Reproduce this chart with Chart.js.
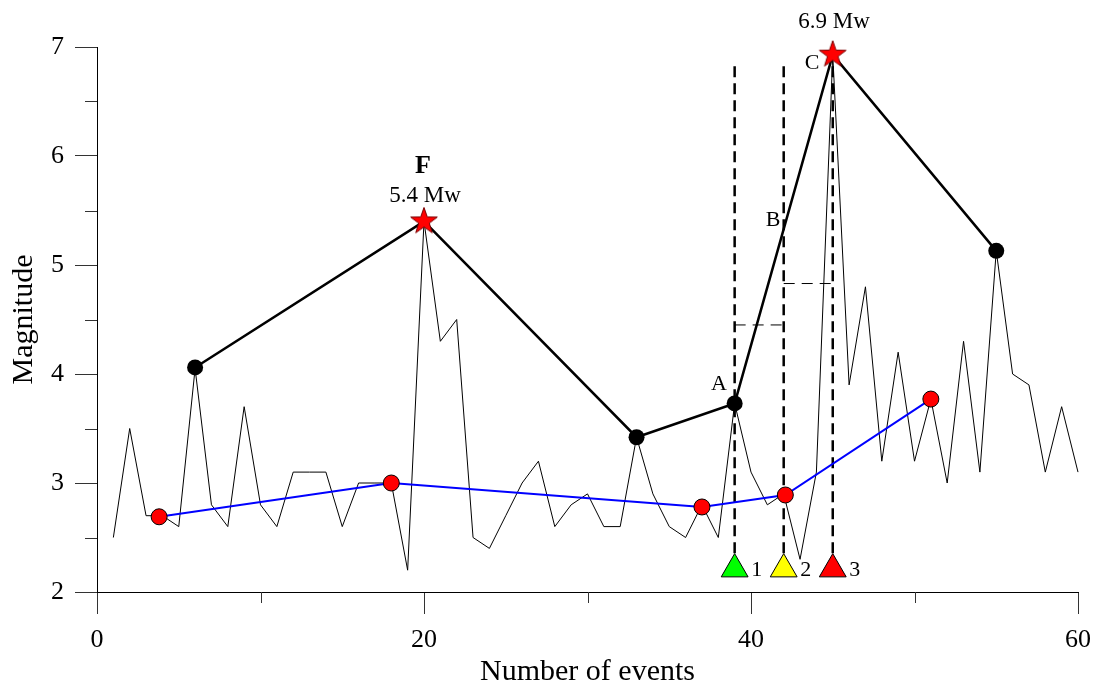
<!DOCTYPE html>
<html>
<head>
<meta charset="utf-8">
<script src="https://cdn.jsdelivr.net/npm/chart.js@4.4.1/dist/chart.umd.min.js"></script>
<style>
  html, body { margin: 0; padding: 0; background: #fff; }
  #wrap { width: 1102px; height: 686px; }
</style>
</head>
<body>
<div id="wrap"><canvas id="chart"></canvas></div>
<script>
// every event of the sequence
const eventNo = [1, 2, 3, 4, 5, 6, 7, 8, 9, 10, 11, 12, 13, 14, 15, 16, 17, 18, 19, 20,
  21, 22, 23, 24, 25, 26, 27, 28, 29, 30, 31, 32, 33, 34, 35, 36, 37, 38, 39, 40,
  41, 42, 43, 44, 45, 46, 47, 48, 49, 50, 51, 52, 53, 54, 55, 56, 57, 58, 59, 60]
const magnitude = [2.5, 3.5, 2.7, 2.7, 2.6, 4.05, 2.8, 2.6, 3.7, 2.8,
  2.6, 3.1, 3.1, 3.1, 2.6, 3.0, 3.0, 3.0, 2.2, 5.4,
  4.3, 4.5, 2.5, 2.4, 2.7, 3.0, 3.2, 2.6, 2.8, 2.9,
  2.6, 2.6, 3.42, 2.9, 2.6, 2.5, 2.8, 2.5, 3.73, 3.1,
  2.8, 2.9, 2.3, 3.1, 6.93, 3.9, 4.8, 3.2, 4.2, 3.2,
  3.77, 3.0, 4.3, 3.1, 5.13, 4.0, 3.9, 3.1, 3.7, 3.1]

// envelope of the largest events
const peakX = [6, 20, 33, 39, 45, 55]
const peakY = [4.06, 5.4, 3.42, 3.73, 6.93, 5.13]
const peakIsStar = [false, true, false, false, true, false]

// blue curve (red dots)
const meanX = [3.8, 18, 37, 42.1, 51]
const meanY = [2.69, 3.0, 2.78, 2.89, 3.77]

// stations 1-3 and their dashed markers
const stationX = [39, 42, 45]
const stationNames = ['1', '2', '3']
const stationY = 2.21
const dashTop = 6.86
const dashBottom = 2.2
const gapFrom = [39, 42]
const gapTo = [42, 45]
const gapY = [4.45, 4.83]

const xMajor = [0, 20, 40, 60]
const xMinor = [10, 30, 50]
const yMinor = [2.5, 3.5, 4.5, 5.5, 6.5]

const notes = [
  { text: 'F', x: 19.94, y: 5.91, bold: true, size: 26 },
  { text: '5.4 Mw', x: 20.06, y: 5.63, size: 23 },
  { text: '6.9 Mw', x: 45.08, y: 7.23, size: 23 },
  { text: 'A', x: 38.04, y: 3.91, size: 22 },
  { text: 'B', x: 41.35, y: 5.41, size: 22 },
  { text: 'C', x: 43.73, y: 6.85, size: 22 }
]

const FONT = "'Liberation Serif', 'Times New Roman', serif"
const stationColors = ['#00ff00', '#ffff00', '#ff0000']

function makeStar(r) {
  const c = document.createElement('canvas')
  const s = Math.ceil(r * 2 + 4)
  c.width = s
  c.height = s
  const g = c.getContext('2d')
  g.translate(s / 2, s / 2)
  g.beginPath()
  for (let i = 0; i < 10; i++) {
    const rad = i % 2 === 0 ? r : r * 0.4
    const a = -Math.PI / 2 + i * Math.PI / 5
    g.lineTo(rad * Math.cos(a), rad * Math.sin(a))
  }
  g.closePath()
  g.fillStyle = '#ff0000'
  g.fill()
  g.lineWidth = 1
  g.strokeStyle = '#7a0000'
  g.stroke()
  return c
}
const star = makeStar(14)

const pts = (xs, ys) => xs.map((x, i) => ({ x, y: ys[i] }))

const datasets = []

// stations (on top)
datasets.push({
  data: stationX.map(x => ({ x, y: stationY })),
  showLine: false,
  pointStyle: 'triangle',
  pointRadius: 15.5,
  pointBackgroundColor: stationColors,
  pointBorderColor: '#000',
  pointBorderWidth: 1,
  order: 0
})

datasets.push({
  data: pts(peakX, peakY),
  showLine: true,
  borderColor: '#000',
  borderWidth: 2.5,
  pointStyle: peakIsStar.map(s => s ? star : 'circle'),
  pointRadius: 8,
  pointBackgroundColor: '#000',
  pointBorderColor: '#000',
  pointBorderWidth: 0,
  order: 1
})

datasets.push({
  data: pts(meanX, meanY),
  showLine: true,
  borderColor: '#0000ff',
  borderWidth: 2,
  pointRadius: 8,
  pointBackgroundColor: '#ff0000',
  pointBorderColor: '#000',
  pointBorderWidth: 1,
  order: 2
})

for (const x of stationX) {
  datasets.push({
    data: [{ x, y: dashBottom }, { x, y: dashTop }],
    showLine: true,
    borderColor: '#000',
    borderWidth: 2.5,
    borderDash: [11, 6],
    pointRadius: 0,
    order: 3
  })
}

gapY.forEach((y, i) => {
  datasets.push({
    data: [{ x: gapFrom[i], y }, { x: gapTo[i], y }],
    showLine: true,
    borderColor: '#000',
    borderWidth: 1,
    borderDash: [11, 7],
    pointRadius: 0,
    order: 3
  })
})

datasets.push({
  data: pts(eventNo, magnitude),
  showLine: true,
  borderColor: '#000',
  borderWidth: 1,
  pointRadius: 0,
  order: 4
})

const extras = {
  id: 'extras',
  afterDraw(chart) {
    const { ctx, scales: { x, y } } = chart
    ctx.save()
    // minor ticks
    ctx.strokeStyle = '#333'
    ctx.lineWidth = 1
    ctx.beginPath()
    for (const v of yMinor) {
      const py = Math.round(y.getPixelForValue(v)) + 0.5
      ctx.moveTo(x.left - 12, py)
      ctx.lineTo(x.left, py)
    }
    for (const v of xMinor) {
      const px = Math.round(x.getPixelForValue(v)) + 0.5
      ctx.moveTo(px, y.bottom)
      ctx.lineTo(px, y.bottom + 11)
    }
    ctx.stroke()

    ctx.fillStyle = '#000'
    ctx.textAlign = 'center'
    ctx.textBaseline = 'middle'
    for (const n of notes) {
      ctx.font = (n.bold ? 'bold ' : '') + n.size + 'px ' + FONT
      ctx.fillText(n.text, x.getPixelForValue(n.x), y.getPixelForValue(n.y))
    }
    ctx.font = '22px ' + FONT
    stationX.forEach((sx, i) => {
      ctx.fillText(stationNames[i], x.getPixelForValue(sx) + 22, y.getPixelForValue(stationY) + 1)
    })
    ctx.restore()
  }
}

new Chart(document.getElementById('chart'), {
  type: 'scatter',
  data: { datasets },
  options: {
    responsive: true,
    maintainAspectRatio: false,
    animation: false,
    events: [],
    layout: { padding: { top: 47, right: 24, left: 0, bottom: 0 } },
    plugins: { legend: { display: false }, tooltip: { enabled: false } },
    datasets: { scatter: { clip: false } },
    scales: {
      x: {
        type: 'linear',
        min: 0,
        max: 60,
        afterFit: s => { s.height = 94 },
        afterBuildTicks: s => { s.ticks = xMajor.map(v => ({ value: v })) },
        grid: { drawOnChartArea: false, tickLength: 22, color: '#333', lineWidth: 1 },
        border: { display: true, color: '#000', width: 1 },
        ticks: { color: '#000', padding: 11, font: { family: FONT, size: 26 } },
        title: { display: true, text: 'Number of events', color: '#000', padding: { top: 0, bottom: -4 }, font: { family: FONT, size: 30 } }
      },
      y: {
        type: 'linear',
        min: 2,
        max: 7,
        afterFit: s => { s.width = 97 },
        ticks: { stepSize: 1, color: '#000', padding: 11, font: { family: FONT, size: 26 } },
        grid: { drawOnChartArea: false, tickLength: 22, color: '#333', lineWidth: 1 },
        border: { display: true, color: '#000', width: 1 },
        title: { display: true, text: 'Magnitude', color: '#000', padding: { top: 6 }, font: { family: FONT, size: 30 } }
      }
    }
  },
  plugins: [extras]
})
</script>
</body>
</html>
